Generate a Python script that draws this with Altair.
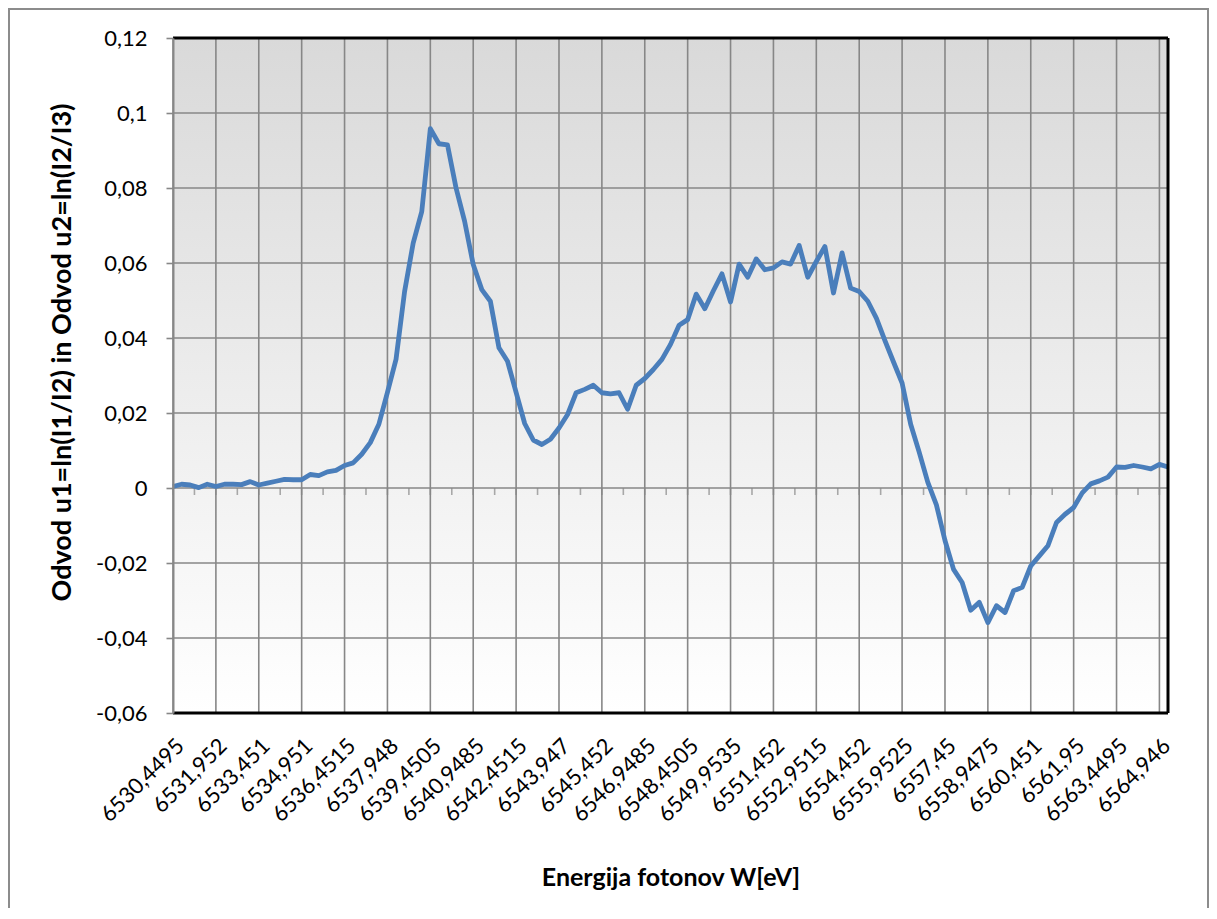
import altair as alt
import pandas as pd

# Category labels shown on the x axis (every 5th category)
labels = ["6530,4495", "6531,952", "6533,451", "6534,951", "6536,4515", "6537,948",
          "6539,4505", "6540,9485", "6542,4515", "6543,947", "6545,452", "6546,9485",
          "6548,4505", "6549,9535", "6551,452", "6552,9515", "6554,452", "6555,9525",
          "6557,45", "6558,9475", "6560,451", "6561,95", "6563,4495", "6564,946"]
label_every = 5

# Series values (derivative), one per category
values = [
    0.0004, 0.0010, 0.0008, 0.0001, 0.0010, 0.0004, 0.0010, 0.0010, 0.0009, 0.0017,
    0.0008, 0.0013, 0.0018, 0.0023, 0.0022, 0.0022, 0.0036, 0.0033, 0.0043, 0.0047,
    0.0060, 0.0067, 0.0090, 0.0121, 0.0170, 0.0255, 0.0343, 0.0524, 0.0653, 0.0737,
    0.0958, 0.0918, 0.0915, 0.0800, 0.0711, 0.0596, 0.0529, 0.0498, 0.0374, 0.0338,
    0.0255, 0.0172, 0.0128, 0.0116, 0.0130, 0.0160, 0.0196, 0.0254, 0.0263, 0.0274,
    0.0254, 0.0251, 0.0254, 0.0210, 0.0274, 0.0292, 0.0316, 0.0343, 0.0383, 0.0434,
    0.0449, 0.0517, 0.0478, 0.0526, 0.0571, 0.0496, 0.0597, 0.0562, 0.0611, 0.0582,
    0.0587, 0.0603, 0.0597, 0.0647, 0.0562, 0.0604, 0.0644, 0.0520, 0.0627, 0.0533,
    0.0524, 0.0498, 0.0453, 0.0393, 0.0336, 0.0280, 0.0170, 0.0095, 0.0015, -0.0045,
    -0.0140, -0.0217, -0.0252, -0.0326, -0.0305, -0.0359, -0.0314, -0.0332, -0.0274, -0.0265,
    -0.0208, -0.0181, -0.0154, -0.0092, -0.0070, -0.0052, -0.0013, 0.0011, 0.0019, 0.0029,
    0.0056, 0.0055, 0.0060, 0.0056, 0.0051, 0.0063, 0.0056,
]

y_ticks = [-0.06, -0.04, -0.02, 0, 0.02, 0.04, 0.06, 0.08, 0.1, 0.12]
y_min, y_max = y_ticks[0], y_ticks[-1]

n = len(values)
df = pd.DataFrame({"k": list(range(n)), "v": values})
grid_x = pd.DataFrame({"k": [i * label_every for i in range(len(labels))]})
grid_y = pd.DataFrame({"t": y_ticks})
zero_ticks = pd.DataFrame({"k": [i * label_every / 2 for i in range(2 * len(labels) - 1)]})

W, H = 995, 675
FONT = "Lato"
GRID = "#878787"

xscale = alt.Scale(domain=[0, n - 1], nice=False, zero=False)
yscale = alt.Scale(domain=[y_min, y_max], nice=False, zero=False)

label_expr = "[" + ",".join("'" + s + "'" for s in labels) + "][round(datum.value / %d)]" % label_every

xaxis = alt.Axis(
    values=grid_x["k"].tolist(), labelExpr=label_expr, grid=False, domain=False, ticks=False,
    labelAngle=315, labelAlign="right", labelBaseline="middle", labelPadding=29,
    labelOffset=7, labelFontSize=22, labelColor="#000000", labelFont=FONT,
    title="Energija fotonov W[eV]", titleFont=FONT, titleFontSize=25, titleFontWeight="bold",
    titleColor="#000000", titleX=W / 2, titleY=164, titleBaseline="middle", titleAlign="center",
    labelOverlap=False, labelBound=False, labelFlush=False,
)
yaxis = alt.Axis(
    values=y_ticks,
    labelExpr="replace(replace(format(datum.value, '.2~f'), '.', ','), '\u2212', '-')",
    grid=False, domain=True, domainColor=GRID, domainWidth=2, ticks=True, tickColor=GRID,
    tickWidth=1.6, tickSize=7, labelPadding=19, labelFontSize=22, labelColor="#000000",
    labelFont=FONT, title="Odvod u1=ln(I1/I2) in Odvod u2=ln(I2/I3)", titleFont=FONT,
    titleFontSize=27, titleFontWeight="bold", titleColor="#000000", titleX=-111,
    titleY=314, titleBaseline="middle", titleAlign="center", titleAngle=270,
    labelOverlap=False, labelBound=False, labelFlush=False, zindex=1,
)

one = alt.Data(values=[{}])

frame = alt.Chart(one).mark_rect(filled=False, stroke="#8c8c8c", strokeWidth=2).encode(
    x=alt.value(-164), x2=alt.value(W + 40), y=alt.value(-29), y2=alt.value(H + 400)
)

bg = alt.Chart(one).mark_rect(
    color=alt.Gradient(
        gradient="linear", x1=0, x2=0, y1=0, y2=1,
        stops=[alt.GradientStop(color="#d9d9d9", offset=0),
               alt.GradientStop(color="#ffffff", offset=1)],
    )
).encode(
    x=alt.XDatum(0, scale=xscale, axis=xaxis),
    x2=alt.X2Datum(n - 1),
    y=alt.YDatum(y_min, scale=yscale, axis=yaxis),
    y2=alt.Y2Datum(y_max),
)

vgrid = alt.Chart(grid_x).mark_rule(color=GRID, strokeWidth=1.6).encode(
    x=alt.X("k:Q", scale=xscale, axis=xaxis)
)
hgrid = alt.Chart(grid_y).mark_rule(color=GRID, strokeWidth=1.6).encode(
    y=alt.Y("t:Q", scale=yscale, axis=yaxis)
)
zt = alt.Chart(zero_ticks).mark_tick(color=GRID, orient="vertical", size=7, thickness=1.6, yOffset=3.5).encode(
    x=alt.X("k:Q", scale=xscale, axis=xaxis),
    y=alt.YDatum(0, scale=yscale, axis=yaxis),
)

line = alt.Chart(df).mark_line(color="#4A7EBB", strokeWidth=4.8, strokeJoin="round").encode(
    x=alt.X("k:Q", scale=xscale, axis=xaxis),
    y=alt.Y("v:Q", scale=yscale, axis=yaxis),
)

border_h = alt.Chart(pd.DataFrame({"t": [y_min, y_max]})).mark_rule(color="#000000", strokeWidth=3).encode(
    y=alt.Y("t:Q", scale=yscale, axis=yaxis)
)
border_v = alt.Chart(one).mark_rule(color="#000000", strokeWidth=3).encode(
    x=alt.XDatum(n - 1, scale=xscale, axis=xaxis)
)

chart = alt.layer(frame, bg, vgrid, hgrid, zt, line, border_h, border_v).properties(
    width=W, height=H,
    padding={"left": 165, "top": 30, "right": 41, "bottom": 195},
    autosize=alt.AutoSizeParams(type="none"),
    background="#ffffff",
).configure_view(strokeWidth=0)

chart.save("out.html", embed_options={"renderer": "svg", "actions": False})
